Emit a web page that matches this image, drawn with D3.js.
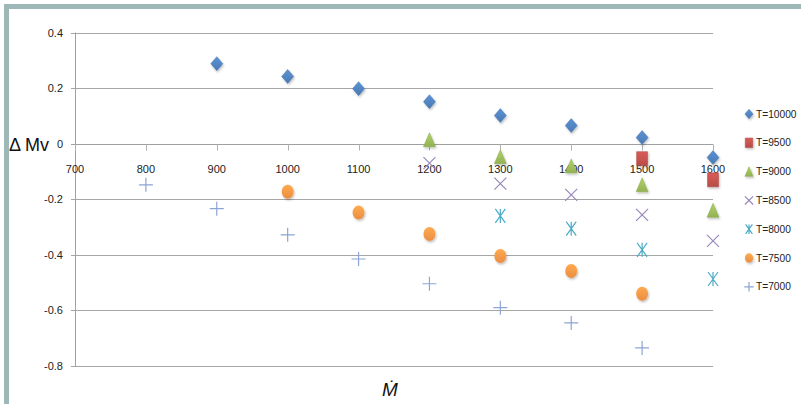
<!DOCTYPE html>
<html>
<head>
<meta charset="utf-8">
<script src="https://cdn.jsdelivr.net/npm/d3@7"></script>
<style>
  body { margin: 0; background: #fff; }
  svg { display: block; }
  text { font-family: "Liberation Sans", Arial, sans-serif; }
</style>
</head>
<body>
<svg id="chart"></svg>
<script>
// tick values
const xTicks = [700, 800, 900, 1000, 1100, 1200, 1300, 1400, 1500, 1600];
const yTicks = [0.4, 0.2, 0, -0.2, -0.4, -0.6, -0.8];

// one pair of arrays per temperature
const t10000X = [900, 1000, 1100, 1200, 1300, 1400, 1500, 1600];
const t10000Y = [0.288, 0.242, 0.198, 0.151, 0.101, 0.065, 0.022, -0.05];
const t9500X = [1500, 1600];
const t9500Y = [-0.054, -0.13];
const t9000X = [1200, 1300, 1400, 1500, 1600];
const t9000Y = [0.014, -0.047, -0.08, -0.148, -0.24];
const t8500X = [1200, 1300, 1400, 1500, 1600];
const t8500Y = [-0.07, -0.144, -0.184, -0.256, -0.35];
const t8000X = [1300, 1400, 1500, 1600];
const t8000Y = [-0.26, -0.306, -0.382, -0.487];
const t7500X = [1000, 1100, 1200, 1300, 1400, 1500];
const t7500Y = [-0.173, -0.248, -0.325, -0.404, -0.458, -0.54];
const t7000X = [800, 900, 1000, 1100, 1200, 1300, 1400, 1500];
const t7000Y = [-0.148, -0.234, -0.328, -0.415, -0.504, -0.59, -0.645, -0.735];

const seriesNames = ['T=10000', 'T=9500', 'T=9000', 'T=8500', 'T=8000', 'T=7500', 'T=7000'];

const series = [
    { name: seriesNames[0], xs: t10000X, ys: t10000Y, shape: 'diamond', color: '#4f81bd' },
    { name: seriesNames[1], xs: t9500X, ys: t9500Y, shape: 'square', color: '#c0504d' },
    { name: seriesNames[2], xs: t9000X, ys: t9000Y, shape: 'triangle', color: '#9bbb59' },
    { name: seriesNames[3], xs: t8500X, ys: t8500Y, shape: 'x', color: '#9a88bb' },
    { name: seriesNames[4], xs: t8000X, ys: t8000Y, shape: 'star', color: '#4bacc6' },
    { name: seriesNames[5], xs: t7500X, ys: t7500Y, shape: 'circle', color: '#f79646' },
    { name: seriesNames[6], xs: t7000X, ys: t7000Y, shape: 'plus', color: '#8ba5d6' }
];

const width = 801;
const height = 404;

const svg = d3.select('#chart')
    .attr('width', width)
    .attr('height', height);

const defs = svg.append('defs');
const shadow = defs.append('filter').attr('id', 'shadow')
    .attr('x', '-50%').attr('y', '-50%').attr('width', '200%').attr('height', '200%');
shadow.append('feDropShadow')
    .attr('dx', 1).attr('dy', 1.5).attr('stdDeviation', 1)
    .attr('flood-color', '#000').attr('flood-opacity', 0.25);

// light top-to-bottom shading on the filled markers
series.forEach((s, i) => {
    const g = defs.append('linearGradient').attr('id', `grad${i}`)
        .attr('x1', 0).attr('y1', 0).attr('x2', 0).attr('y2', 1);
    g.append('stop').attr('offset', '0%').attr('stop-color', d3.color(s.color).brighter(0.35));
    g.append('stop').attr('offset', '100%').attr('stop-color', d3.color(s.color).darker(0.15));
});

// frame
svg.append('rect')
    .attr('x', 6.5).attr('y', 6.5)
    .attr('width', width + 20).attr('height', height + 20)
    .attr('fill', 'none')
    .attr('stroke', '#9db8b7')
    .attr('stroke-width', 5);

const x = d3.scaleLinear().domain([700, 1600]).range([75, 713]);
const y = d3.scaleLinear().domain([-0.8, 0.4]).range([366, 32.5]);

// horizontal grid
svg.append('g')
    .selectAll('line')
    .data(yTicks.filter(d => d !== 0))
    .join('line')
    .attr('x1', x(700) - 4).attr('x2', x(1600))
    .attr('y1', d => Math.round(y(d)) + 0.5)
    .attr('y2', d => Math.round(y(d)) + 0.5)
    .attr('stroke', '#a6a6a6')
    .attr('stroke-width', 1.2);

// y axis line
svg.append('line')
    .attr('x1', x(700) + 0.5).attr('x2', x(700) + 0.5)
    .attr('y1', y(0.4)).attr('y2', y(-0.8))
    .attr('stroke', '#a0a0a0');

// x axis at zero with ticks hanging below
const y0 = Math.round(y(0)) + 0.5;
svg.append('line')
    .attr('x1', x(700) - 4).attr('x2', x(1600))
    .attr('y1', y0).attr('y2', y0)
    .attr('stroke', '#a0a0a0')
    .attr('stroke-width', 1.2);
svg.append('g')
    .selectAll('line')
    .data(xTicks)
    .join('line')
    .attr('x1', d => Math.round(x(d)) + 0.5)
    .attr('x2', d => Math.round(x(d)) + 0.5)
    .attr('y1', y0).attr('y2', y0 + 6)
    .attr('stroke', '#b0b0b0');

// tick labels (plain hyphen for negatives, as in the original)
svg.append('g')
    .selectAll('text')
    .data(yTicks)
    .join('text')
    .attr('x', 63)
    .attr('y', d => y(d) + 4)
    .attr('text-anchor', 'end')
    .attr('font-size', 11)
    .attr('fill', '#222')
    .text(d => String(d));

svg.append('g')
    .selectAll('text')
    .data(xTicks)
    .join('text')
    .attr('x', d => x(d))
    .attr('y', 173)
    .attr('text-anchor', 'middle')
    .attr('font-size', 11)
    .attr('fill', '#222')
    .text(d => d);

// axis titles
svg.append('text')
    .attr('x', 9)
    .attr('y', 151)
    .attr('font-family', 'Lato, "Open Sans", sans-serif')
    .attr('font-weight', 300)
    .attr('font-size', 18)
    .attr('fill', '#111')
    .text('Δ Mv');

svg.append('text')
    .attr('x', 390)
    .attr('y', 396)
    .attr('text-anchor', 'middle')
    .attr('font-family', '"Liberation Serif", "Times New Roman", serif')
    .attr('font-style', 'italic')
    .attr('font-size', 19)
    .attr('fill', '#111')
    .text('Ṁ');

function markerPath(shape, k) {
    const p = d3.path();
    const w = 6 * k, h = 7 * k;
    if (shape === 'diamond') {
        p.moveTo(0, -h); p.lineTo(w, 0); p.lineTo(0, h); p.lineTo(-w, 0); p.closePath();
    } else if (shape === 'square') {
        p.rect(-5.5 * k, -h, 11 * k, 2 * h);
    } else if (shape === 'triangle') {
        p.moveTo(0, -h); p.lineTo(w, h); p.lineTo(-w, h); p.closePath();
    } else if (shape === 'x') {
        p.moveTo(-w, -w); p.lineTo(w, w); p.moveTo(w, -w); p.lineTo(-w, w);
    } else if (shape === 'star') {
        p.moveTo(-5 * k, -h); p.lineTo(5 * k, h); p.moveTo(5 * k, -h); p.lineTo(-5 * k, h);
        p.moveTo(0, -h); p.lineTo(0, h);
    } else if (shape === 'plus') {
        p.moveTo(-h, 0); p.lineTo(h, 0); p.moveTo(0, -h); p.lineTo(0, h);
    }
    return p.toString();
}

function drawMarker(sel, s, i, k) {
    if (s.shape === 'circle') {
        sel.append('ellipse')
            .attr('rx', 6 * k).attr('ry', 7 * k)
            .attr('fill', `url(#grad${i})`)
            .attr('filter', 'url(#shadow)');
    } else if (['x', 'star', 'plus'].includes(s.shape)) {
        sel.append('path')
            .attr('d', markerPath(s.shape, k))
            .attr('fill', 'none')
            .attr('stroke', s.color)
            .attr('stroke-width', 1.2);
    } else {
        sel.append('path')
            .attr('d', markerPath(s.shape, k))
            .attr('fill', `url(#grad${i})`)
            .attr('stroke', d3.color(s.color).darker(0.3))
            .attr('stroke-width', 0.5)
            .attr('filter', 'url(#shadow)');
    }
}

// points
series.forEach((s, i) => {
    const pts = s.xs.map((v, j) => ({ x: v, y: s.ys[j] }));
    const g = svg.append('g').attr('class', 'series');
    g.selectAll('g')
        .data(pts)
        .join('g')
        .attr('transform', d => `translate(${x(d.x)},${y(d.y)})`)
        .each(function() { drawMarker(d3.select(this), s, i, 1); });
});

// legend
const legend = svg.append('g').attr('transform', 'translate(749,114)');
series.forEach((s, i) => {
    const item = legend.append('g').attr('transform', `translate(0,${i * 28.8})`);
    drawMarker(item, s, i, 0.68);
    item.append('text')
        .attr('x', 7)
        .attr('y', 3.6)
        .attr('font-size', 10.2)
        .attr('fill', '#222')
        .text(s.name);
});
</script>
</body>
</html>
